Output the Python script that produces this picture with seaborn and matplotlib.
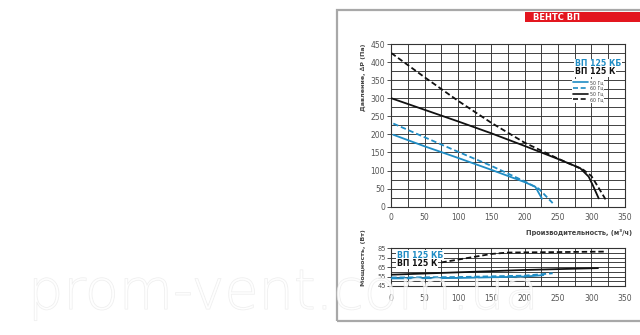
import matplotlib
matplotlib.use("Agg")
import matplotlib.pyplot as plt
import matplotlib.patheffects as pe
from matplotlib.patches import Rectangle
from matplotlib.lines import Line2D
import numpy as np
import pandas as pd
import seaborn as sns

sns.set_theme(style="white")
plt.rcParams['font.family'] = ['DejaVu Sans']

# ---- data: pressure curves ----
kb50_q = [3, 50, 100, 150, 200, 216, 226]
kb50_p = [199, 167, 135, 102, 68, 55, 22]
kb60_q = [3, 50, 100, 150, 200, 221, 242]
kb60_p = [230, 192, 152, 113, 70, 50, 10]
k50_q = [0, 50, 100, 150, 200, 250, 283, 296, 302, 311]
k50_p = [300, 268, 236, 203, 168, 132, 107, 83, 60, 23]
k60_q = [0, 50, 100, 150, 200, 250, 288, 300, 310, 323]
k60_p = [425, 358, 293, 232, 177, 133, 102, 85, 55, 15]

# ---- data: power curves ----
kb50_pw_q = [0, 100, 200, 228]
kb50_pw = [53, 53.5, 55, 56.5]
kb60_pw_q = [0, 100, 200, 242]
kb60_pw = [54, 54.5, 56, 58.5]
k50_pw_q = [0, 100, 200, 310]
k50_pw = [57, 59.5, 62, 64]
k60_pw_q = [75, 100, 125, 150, 175, 250, 323]
k60_pw = [70, 73, 76, 79, 80.5, 81, 81.5]

models = ["ВП 125 КБ", "ВП 125 К"]
freqs = ["50 Гц", "60 Гц"]
x_ticks = [0, 50, 100, 150, 200, 250, 300, 350]
p_ticks = [0, 50, 100, 150, 200, 250, 300, 350, 400, 450]
pw_ticks = [45, 55, 65, 75, 85]

BLUE = "#1f8cc4"
BLACK = "#111111"
palette = {models[0]: BLUE, models[1]: BLACK}
dashes = {freqs[0]: "", freqs[1]: (3, 1.6)}


def frame(pairs):
    rows = []
    for (m, f, q, v) in pairs:
        for qi, vi in zip(q, v):
            rows.append({"model": m, "freq": f, "q": qi, "v": vi})
    return pd.DataFrame(rows)


df_p = frame([
    (models[0], freqs[0], kb50_q, kb50_p),
    (models[0], freqs[1], kb60_q, kb60_p),
    (models[1], freqs[0], k50_q, k50_p),
    (models[1], freqs[1], k60_q, k60_p),
])
df_w = frame([
    (models[0], freqs[0], kb50_pw_q, kb50_pw),
    (models[0], freqs[1], kb60_pw_q, kb60_pw),
    (models[1], freqs[0], k50_pw_q, k50_pw),
    (models[1], freqs[1], k60_pw_q, k60_pw),
])

W, H = 640, 335
fig = plt.figure(figsize=(6.4, 3.35), dpi=100)
fig.patch.set_facecolor("white")


def fx(px):
    return px / W


def fy(py):
    return 1 - py / H


# outer frame
fig.patches.append(Rectangle((fx(337), fy(321)), fx(320), (321 - 10) / H,
                             transform=fig.transFigure, fill=False,
                             edgecolor="#a8a8a8", lw=1.6, zorder=0))
# red banner
fig.patches.append(Rectangle((fx(525), fy(22)), fx(120), 10 / H,
                             transform=fig.transFigure, facecolor="#e3161f",
                             edgecolor="none", zorder=1))
fig.text(fx(533), fy(17.5), "ВЕНТС ВП", color="white", fontsize=6,
         fontweight="bold", va="center", ha="left")

ax = fig.add_axes([fx(391.3), fy(206.7), fx(624.7 - 391.3), (206.7 - 44) / H])
ax2 = fig.add_axes([fx(391.3), fy(286), fx(624.7 - 391.3), (286 - 248.3) / H])

for a, d in ((ax, df_p), (ax2, df_w)):
    for (m, f), sub in d.groupby(["model", "freq"], sort=False):
        sns.lineplot(data=sub, x="q", y="v", ax=a, color=palette[m],
                     sort=False, estimator=None, legend=False, lw=1.3,
                     dashes=False, zorder=3)
        ln = a.get_lines()[-1]
        if f == freqs[1]:
            ln.set_dashes(dashes[f])

grid_kw = dict(color="#333333", lw=0.65)
for a in (ax, ax2):
    a.set_xlim(0, 350)
    a.set_xticks(x_ticks)
    a.set_xticks(np.arange(0, 351, 25), minor=True)
    a.grid(True, which="both", axis="x", **grid_kw)
    a.set_xlabel("")
    a.set_ylabel("")
    for s in a.spines.values():
        s.set_color("#333333")
        s.set_linewidth(0.8)
    a.tick_params(axis="both", which="major", labelsize=5.5, labelcolor="#555555",
                  length=3, width=0.6, color="#333333", pad=1.5, direction="out",
                  left=True, bottom=False)
    a.tick_params(axis="both", which="minor", length=0)

ax.set_ylim(0, 450)
ax.set_yticks(p_ticks)
ax.set_yticks(np.arange(0, 451, 25), minor=True)
ax.grid(True, which="both", axis="y", **grid_kw)

ax2.set_ylim(45, 85)
ax2.set_yticks(pw_ticks)
ax2.set_yticks(np.arange(45, 86, 5), minor=True)
ax2.grid(True, which="both", axis="y", **grid_kw)
ax2.tick_params(axis="y", labelsize=4.8, pad=1)
ax2.tick_params(axis="x", pad=2.5)

# labels
fig.text(fx(363), fy(44), "Давление, ∆P (Па)", rotation=90, fontsize=4.6,
         fontweight="bold", color="#444444", ha="center", va="top")
fig.text(fx(632), fy(232), "Производительность, (м³/ч)", fontsize=4.8,
         fontweight="bold", color="#444444", ha="right", va="center")
fig.text(fx(363), fy(286), "Мощность, (Вт)", rotation=90, fontsize=4.6,
         fontweight="bold", color="#444444", ha="center", va="bottom")

# brand labels
box = dict(facecolor="white", edgecolor="none", pad=0.6)
ax.text(fx(575), fy(64), models[0], transform=fig.transFigure, fontsize=5.6,
        fontweight="bold", color=BLUE, va="center", ha="left", bbox=box, zorder=5)
ax.text(fx(575), fy(71.5), models[1], transform=fig.transFigure, fontsize=5.6,
        fontweight="bold", color=BLACK, va="center", ha="left", bbox=box, zorder=5)
ax2.text(fx(397), fy(255), models[0], transform=fig.transFigure, fontsize=5.6,
         fontweight="bold", color=BLUE, va="center", ha="left", bbox=box, zorder=5)
ax2.text(fx(397), fy(263.5), models[1], transform=fig.transFigure, fontsize=5.6,
         fontweight="bold", color=BLACK, va="center", ha="left", bbox=box, zorder=5)

handles = [
    Line2D([], [], color=BLUE, lw=1.2),
    Line2D([], [], color=BLUE, lw=1.2, dashes=dashes[freqs[1]]),
    Line2D([], [], color=BLACK, lw=1.2),
    Line2D([], [], color=BLACK, lw=1.2, dashes=dashes[freqs[1]]),
]
leg = ax.legend(handles, [freqs[0], freqs[1], freqs[0], freqs[1]],
                loc="upper left", bbox_to_anchor=(fx(572), fy(79)),
                bbox_transform=fig.transFigure, fontsize=3.4, frameon=True,
                facecolor="white", edgecolor="none", framealpha=1,
                handlelength=3.2, handletextpad=0.4, labelspacing=0.15,
                borderpad=0.2, borderaxespad=0)
for t in leg.get_texts():
    t.set_color("#444444")
leg.set_zorder(6)

# watermark
fig.text(fx(28), fy(309), "prom-vent.com.ua", fontsize=40, color="white",
         alpha=0.5, ha="left", va="baseline", fontweight="light",
         path_effects=[pe.withStroke(linewidth=0.7, foreground="#dcdcdc")],
         zorder=10)

fig.savefig("out.png", dpi=100, facecolor="white")
